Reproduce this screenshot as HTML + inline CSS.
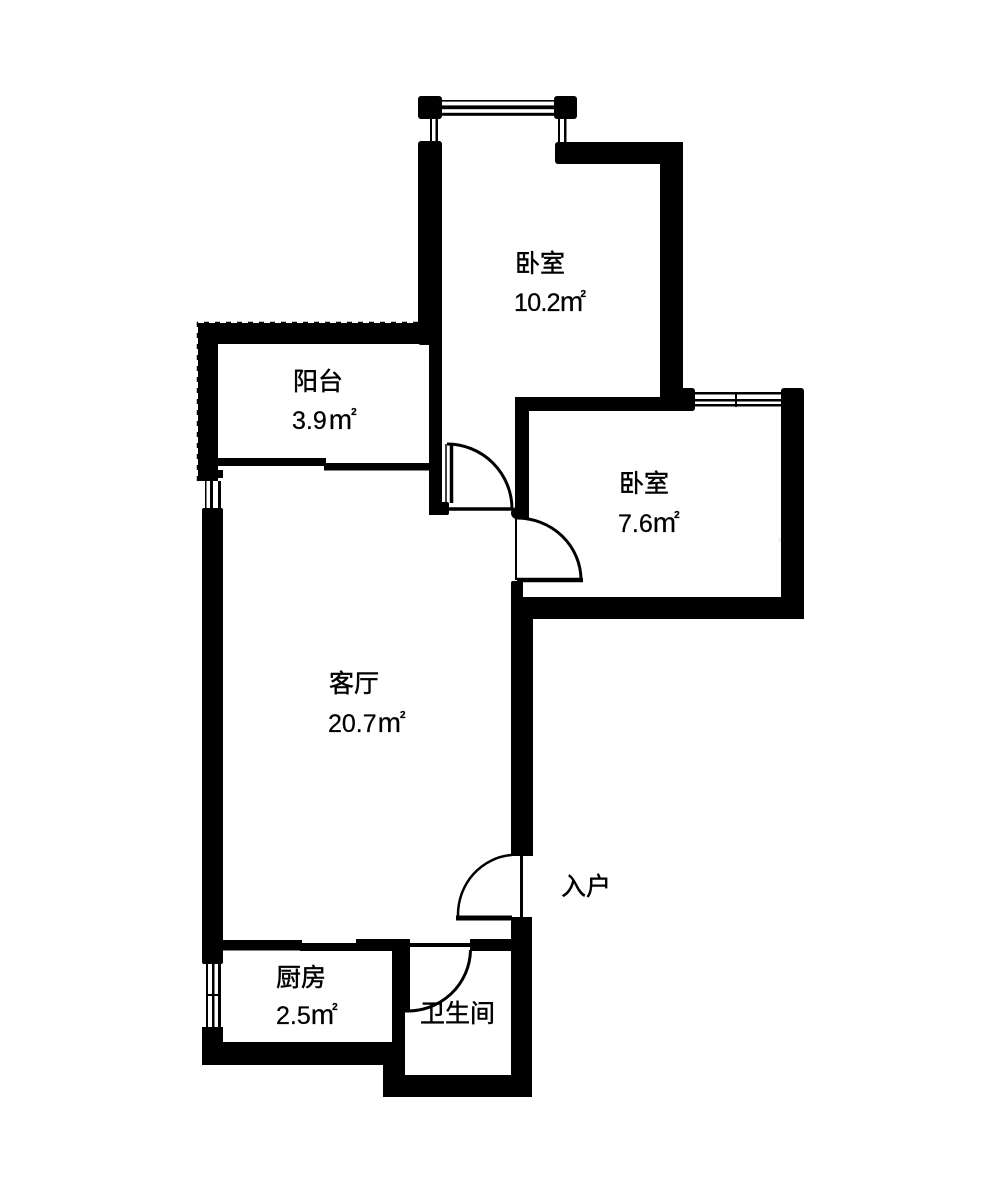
<!DOCTYPE html>
<html><head><meta charset="utf-8"><style>
html,body{margin:0;padding:0;background:#fff;width:1000px;height:1198px;overflow:hidden}
svg{display:block}
.c{font-family:"Liberation Sans","Noto Sans CJK SC",sans-serif;font-size:25px;fill:#000;stroke:#000;stroke-width:.45}
.n{font-family:"Liberation Sans","Noto Sans CJK SC",sans-serif;font-size:25px;fill:#000;stroke:#000;stroke-width:.25}
.m{font-size:28px}
.s{font-size:10px;font-weight:bold}
.w{font-family:"Liberation Sans","Noto Sans CJK SC",sans-serif;font-size:15px;fill:#e4e4e4}
</style></head><body>
<svg width="1000" height="1198" viewBox="0 0 1000 1198" xmlns="http://www.w3.org/2000/svg">
<rect width="1000" height="1198" fill="#fff"/>
<text class="w" transform="translate(424,290) rotate(-40)">地</text>
<text class="w" transform="translate(784,549) rotate(-40)">地</text>
<text class="w" transform="translate(391,1088) rotate(-40)">推</text>
<g fill="#000">
<!-- top bedroom -->
<rect x="418" y="96" width="24" height="23" rx="3"/>
<rect x="554" y="96" width="23" height="23" rx="3"/>
<rect x="442" y="100" width="112" height="1.6"/>
<rect x="442" y="105.4" width="112" height="3.8"/>
<rect x="442" y="112.8" width="112" height="3"/>
<rect x="430" y="119" width="2" height="23"/><rect x="435.5" y="119" width="2.5" height="23"/>
<rect x="558" y="119" width="2" height="23"/><rect x="564" y="119" width="2.5" height="23"/>
<rect x="418" y="141" width="24" height="204" rx="3"/>
<rect x="555" y="142" width="128" height="22" rx="3"/>
<rect x="660" y="142" width="23" height="269"/>
<!-- balcony -->
<rect x="198" y="323" width="244" height="21"/>
<rect x="198" y="323" width="20" height="158"/>
<rect x="202" y="470" width="21" height="8"/>
<rect x="429" y="340" width="13" height="175"/>
<rect x="429" y="502" width="20" height="13" rx="2"/>
<rect x="218" y="458" width="108" height="8"/>
<rect x="324" y="463" width="105" height="7.5"/>
<rect x="205" y="481" width="1.500" height="28"/><rect x="210" y="481" width="3" height="28"/><rect x="218" y="481" width="3" height="28"/>
<!-- left living wall -->
<rect x="202" y="508" width="21" height="456" rx="2"/>
<!-- bedroom 2 -->
<rect x="515" y="397" width="180" height="14" rx="3"/>
<rect x="660" y="388" width="35" height="23" rx="3"/>
<rect x="515" y="397" width="14" height="121"/>
<circle cx="517" cy="513" r="6"/>
<rect x="781" y="388" width="23" height="231" rx="3"/>
<rect x="695" y="392" width="86" height="2.500"/>
<rect x="695" y="399" width="86" height="2.500"/>
<rect x="695" y="404" width="86" height="2.500"/>
<rect x="735" y="392" width="2" height="15"/>
<rect x="511" y="597" width="293" height="22"/>
<rect x="511" y="581" width="12" height="20" rx="2"/>
<!-- main right wall -->
<rect x="511" y="600" width="22" height="256"/>
<rect x="520" y="856" width="3" height="62"/>
<rect x="511" y="917" width="21" height="180"/>
<rect x="456" y="915.5" width="56" height="5"/>
<rect x="470" y="939" width="42" height="12"/>
<!-- kitchen -->
<rect x="202" y="1027" width="21" height="38"/>
<rect x="202" y="1042" width="203" height="23" rx="2"/>
<rect x="222" y="940" width="80" height="10.5"/>
<rect x="300" y="943" width="60" height="8"/>
<rect x="356" y="939" width="54" height="12"/>
<rect x="392" y="939" width="18" height="71"/>
<rect x="392" y="1000" width="13" height="50"/>
<rect x="408" y="943" width="62" height="4"/>
<rect x="206" y="964" width="2" height="63"/><rect x="212" y="964" width="2.500" height="63"/><rect x="218" y="964" width="3" height="63"/>
<rect x="206" y="994" width="15" height="2"/>
<!-- bathroom -->
<rect x="383" y="1075" width="149" height="22"/>
<rect x="383" y="1060" width="22" height="37"/>
</g>
<g fill="none" stroke="#000">
<!-- jagged balcony outer edge -->
<path d="M197.500 481 V322.500 H420" stroke-width="1.500" stroke-dasharray="5 6"/>
<!-- door 1 -->
<path d="M447 444 A65 65 0 0 1 512 509" stroke-width="3"/>
<path d="M451.500 444 V503" stroke-width="3.500"/>
<path d="M449 509 H513" stroke-width="3.500"/>
<path d="M446 444 V503" stroke-width="1.500"/>
<!-- door 2 -->
<path d="M517 518 A64 62 0 0 1 581 580" stroke-width="3"/>
<path d="M516 516 V580" stroke-width="2"/>
<path d="M517 580 H583" stroke-width="4.500"/>
<!-- entry door -->
<path d="M512 855 A58 60 0 0 0 458 916" stroke-width="2.500"/>
<!-- bathroom door -->
<path d="M470.500 950 A63 62 0 0 1 405 1011" stroke-width="3"/>
</g>
<text class="c" x="515" y="272">卧室</text>
<text class="n" x="514" y="311" letter-spacing="-.7">10.2<tspan class="m" dx="0">m</tspan><tspan class="s" dx="-2" dy="-14">2</tspan></text>
<text class="c" x="293" y="390">阳台</text>
<text class="n" x="292" y="429">3.9<tspan class="m" dx="2">m</tspan><tspan class="s" dx="-1" dy="-14">2</tspan></text>
<text class="c" x="619" y="492">卧室</text>
<text class="n" x="618" y="532">7.6<tspan class="m" dx="0">m</tspan><tspan class="s" dx="-2" dy="-14">2</tspan></text>
<text class="c" x="329" y="692">客厅</text>
<text class="n" x="328" y="732">20.7<tspan class="m" dx="1">m</tspan><tspan class="s" dx="-1" dy="-14">2</tspan></text>
<text class="c" x="276" y="986">厨房</text>
<text class="n" x="276" y="1024">2.5<tspan class="m" dx="0">m</tspan><tspan class="s" dx="-2" dy="-14">2</tspan></text>
<text class="c" x="420" y="1022">卫生间</text>
<text class="c" x="561" y="895">入户</text>
</svg>
</body></html>
